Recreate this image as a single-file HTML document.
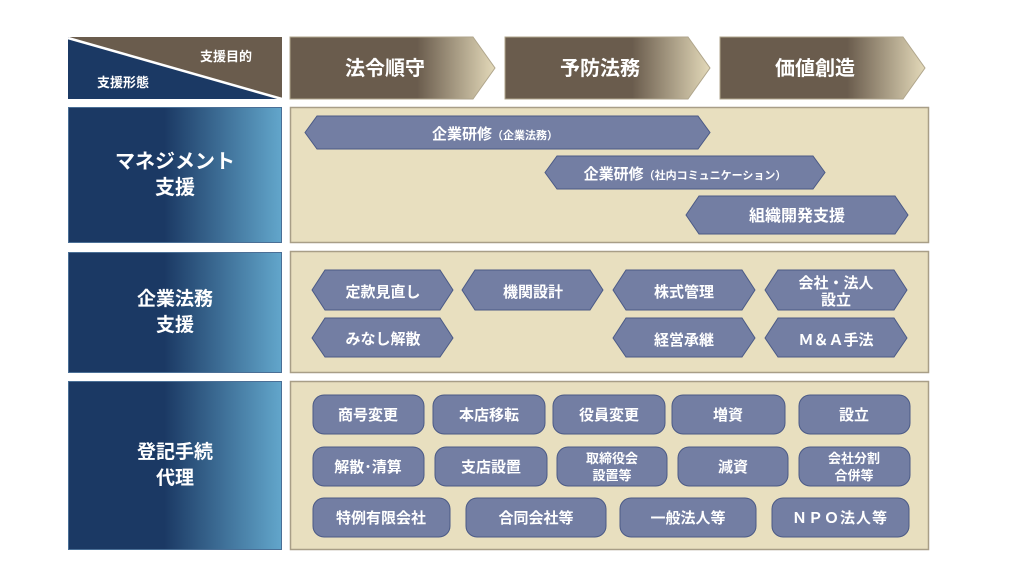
<!DOCTYPE html>
<html><head><meta charset="utf-8"><style>
html,body{margin:0;padding:0;background:#fff;}
svg{display:block;}
text{font-family:"Liberation Sans","Noto Sans CJK JP",sans-serif;fill:#fff;font-weight:bold;}
</style></head><body>
<svg width="1024" height="576" viewBox="0 0 1024 576" xmlns="http://www.w3.org/2000/svg">
<defs>
<linearGradient id="lg" x1="0" x2="1" y1="0" y2="0">
<stop offset="0" stop-color="#1b3964"/><stop offset="0.45" stop-color="#1b3964"/><stop offset="1" stop-color="#62a6cb"/></linearGradient>
<linearGradient id="ag" x1="0" x2="1" y1="0" y2="0">
<stop offset="0" stop-color="#6a5c4d"/><stop offset="0.62" stop-color="#6a5c4d"/><stop offset="1" stop-color="#e3d9b9"/></linearGradient>
</defs>
<rect x="68" y="37" width="214" height="62" fill="#6a5c4d"/>
<polygon points="68,37 68,99 282,99" fill="#1b3964"/>
<line x1="68" y1="38" x2="282" y2="99" stroke="#fff" stroke-width="2.5"/>
<text x="226" y="61" font-size="13" text-anchor="middle">支援目的</text>
<text x="123" y="87" font-size="13" text-anchor="middle">支援形態</text>
<g stroke="#b0a68c" stroke-width="1">
<polygon points="290,37 473,37 495,68 473,99 290,99" fill="url(#ag)"/>
<polygon points="505,37 688,37 710,68 688,99 505,99" fill="url(#ag)"/>
<polygon points="720,37 903,37 925,68 903,99 720,99" fill="url(#ag)"/>
</g>
<text x="385" y="75" font-size="20" text-anchor="middle">法令順守</text>
<text x="600" y="75" font-size="20" text-anchor="middle">予防法務</text>
<text x="815" y="75" font-size="20" text-anchor="middle">価値創造</text>
<g stroke="#4a6f96" stroke-width="1">
<rect x="68.5" y="107.5" width="213" height="135" fill="url(#lg)"/>
<rect x="68.5" y="252.5" width="213" height="120" fill="url(#lg)"/>
<rect x="68.5" y="381.5" width="213" height="168" fill="url(#lg)"/>
</g>
<text x="175" y="168" font-size="20" text-anchor="middle">マネジメント</text>
<text x="175" y="194" font-size="20" text-anchor="middle">支援</text>
<text x="175" y="305" font-size="19" text-anchor="middle">企業法務</text>
<text x="175" y="331" font-size="19" text-anchor="middle">支援</text>
<text x="175" y="458" font-size="19" text-anchor="middle">登記手続</text>
<text x="175" y="484" font-size="19" text-anchor="middle">代理</text>
<g fill="#e8dfbf" stroke="#a89e87" stroke-width="1.5">
<rect x="290.5" y="107.5" width="638" height="135"/>
<rect x="290.5" y="251.5" width="638" height="121"/>
<rect x="290.5" y="381.5" width="638" height="168"/>
</g>
<g fill="#737ea3" stroke="#4b5a86" stroke-width="1">
<polygon points="305,132.5 317,116 698,116 710,132.5 698,149 317,149"/>
<polygon points="545,172.5 557,156 813,156 825,172.5 813,189 557,189"/>
<polygon points="686,215 699,196 895,196 908,215 895,234 699,234"/>
<polygon points="312,290 325,270 440,270 453,290 440,310 325,310"/>
<polygon points="462,290 475,270 590,270 603,290 590,310 475,310"/>
<polygon points="613,290 626,270 742,270 755,290 742,310 626,310"/>
<polygon points="765,290 778,270 894,270 907,290 894,310 778,310"/>
<polygon points="312,338 325,318 440,318 453,338 440,357 325,357"/>
<polygon points="613,338 626,318 742,318 755,338 742,357 626,357"/>
<polygon points="765,338 778,318 894,318 907,338 894,357 778,357"/>
</g>
<text x="495" y="139" font-size="15" text-anchor="middle">企業研修<tspan font-size="11">（企業法務）</tspan></text>
<text x="685" y="179" font-size="15" text-anchor="middle">企業研修<tspan font-size="11">（社内コミュニケーション）</tspan></text>
<text x="797" y="221" font-size="16" text-anchor="middle">組織開発支援</text>
<g font-size="15" text-anchor="middle">
<text x="383" y="297">定款見直し</text>
<text x="533" y="297">機関設計</text>
<text x="684" y="297">株式管理</text>
<text x="836" y="288">会社・法人</text>
<text x="836" y="305">設立</text>
<text x="383" y="344">みなし解散</text>
<text x="684" y="345">経営承継</text>
<text x="836" y="345">Ｍ＆Ａ手法</text>
</g>
<g fill="#737ea3" stroke="#4b5a86" stroke-width="1">
<rect x="313" y="395" width="111" height="39" rx="11"/>
<rect x="433" y="395" width="112" height="39" rx="11"/>
<rect x="553" y="395" width="112" height="39" rx="11"/>
<rect x="672" y="395" width="113" height="39" rx="11"/>
<rect x="799" y="395" width="111" height="39" rx="11"/>
<rect x="313" y="447" width="111" height="39" rx="11"/>
<rect x="435" y="447" width="112" height="39" rx="11"/>
<rect x="557" y="447" width="110" height="39" rx="11"/>
<rect x="678" y="447" width="110" height="39" rx="11"/>
<rect x="799" y="447" width="111" height="39" rx="11"/>
<rect x="313" y="498" width="137" height="39" rx="11"/>
<rect x="466" y="498" width="140" height="39" rx="11"/>
<rect x="620" y="498" width="136" height="39" rx="11"/>
<rect x="772" y="498" width="137" height="39" rx="11"/>
</g>
<g font-size="15" text-anchor="middle">
<text x="368" y="420">商号変更</text>
<text x="489" y="420">本店移転</text>
<text x="609" y="420">役員変更</text>
<text x="728" y="420">増資</text>
<text x="854" y="420">設立</text>
<text x="368" y="472">解散･清算</text>
<text x="491" y="472">支店設置</text>
<text x="612" y="463" font-size="13">取締役会</text>
<text x="612" y="480" font-size="13">設置等</text>
<text x="733" y="472">減資</text>
<text x="854" y="463" font-size="13">会社分割</text>
<text x="854" y="480" font-size="13">合併等</text>
<text x="381" y="523">特例有限会社</text>
<text x="536" y="523">合同会社等</text>
<text x="688" y="523">一般法人等</text>
<text x="840" y="523" letter-spacing="1">ＮＰＯ法人等</text>
</g>
</svg>
</body></html>
